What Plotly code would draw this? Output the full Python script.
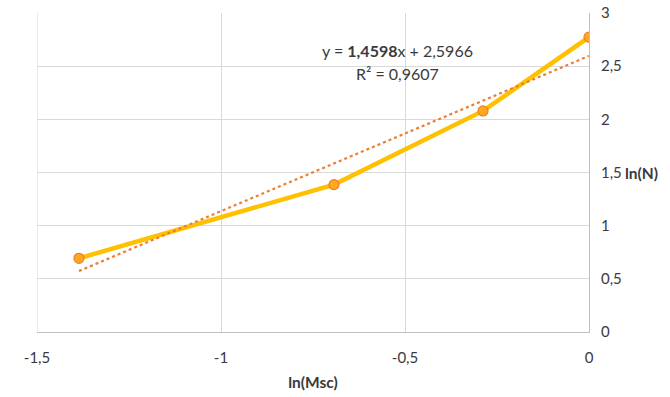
import plotly.graph_objects as go

# Data: ln of mass fraction vs ln of count
ln_msc = [-1.386, -0.693, -0.288, 0.0]
ln_n = [0.693, 1.386, 2.079, 2.773]

# Linear fit reported on the chart
slope = 1.4598
intercept = 2.5966
r2 = 0.9607

x_ticks = [-1.5, -1.0, -0.5, 0.0]
x_labels = ["-1,5", "-1", "-0,5", "0"]
y_ticks = [0, 0.5, 1, 1.5, 2, 2.5, 3]
y_labels = ["0", "0,5", "1", "1,5", "2", "2,5", "3"]

fit_x = [min(ln_msc), max(ln_msc)]
fit_y = [slope * v + intercept for v in fit_x]

font_family = "Lato, 'Open Sans', sans-serif"
text_color = "#3a3a3a"


def fmt(v):
    return f"{v:.4f}".replace(".", ",")


fig = go.Figure()

fig.add_trace(go.Scatter(
    x=ln_msc, y=ln_n, mode="lines+markers",
    line=dict(color="#FFC000", width=4.5),
    marker=dict(size=10, color="#FFA91F", line=dict(color="#ED7D31", width=1.2)),
    showlegend=False, hoverinfo="skip",
))

fig.add_trace(go.Scatter(
    x=fit_x, y=fit_y, mode="lines",
    line=dict(color="#ED7D31", width=2.2, dash="dot"),
    showlegend=False, hoverinfo="skip",
))

fig.update_layout(
    width=670, height=397,
    margin=dict(l=37, r=81, t=13, b=65, autoexpand=False),
    paper_bgcolor="white", plot_bgcolor="white",
    font=dict(family=font_family, size=15, color=text_color),
    xaxis=dict(
        range=[-1.5, 0], tickvals=x_ticks, ticktext=x_labels,
        showgrid=True, gridcolor="#D9D9D9", gridwidth=1,
        zeroline=False, showline=True, linecolor="#BFBFBF", linewidth=1,
        mirror=False, ticks="", ticklabelstandoff=12, automargin=False,
        title=dict(text="<b>ln(Msc)</b>", font=dict(size=15.5, color=text_color), standoff=12),
    ),
    yaxis=dict(
        range=[0, 3], tickvals=y_ticks, ticktext=y_labels, side="right",
        showgrid=True, gridcolor="#D9D9D9", gridwidth=1,
        zeroline=False, showline=True, linecolor="#BFBFBF", linewidth=1,
        ticks="", ticklabelstandoff=8, automargin=False,
    ),
)

# left border of the plot area
fig.add_shape(type="line", xref="x", yref="paper", x0=-1.5, x1=-1.5, y0=0, y1=1,
              line=dict(color="#D9D9D9", width=1))

fig.add_annotation(
    xref="paper", yref="y", x=1.0, y=1.5, xshift=34, xanchor="left",
    text="<b>ln(N)</b>", showarrow=False, font=dict(size=15.5, color=text_color),
)

fig.add_annotation(
    xref="x", yref="paper", x=-0.52, y=1, yshift=-37, xanchor="center", yanchor="middle",
    text="y = <b>" + fmt(slope) + "</b>x + " + fmt(intercept),
    showarrow=False, font=dict(size=16, color=text_color),
)
fig.add_annotation(
    xref="x", yref="paper", x=-0.52, y=1, yshift=-60, xanchor="center", yanchor="middle",
    text="R² = " + fmt(r2),
    showarrow=False, font=dict(size=16, color=text_color),
)

fig.write_html("out.html")
